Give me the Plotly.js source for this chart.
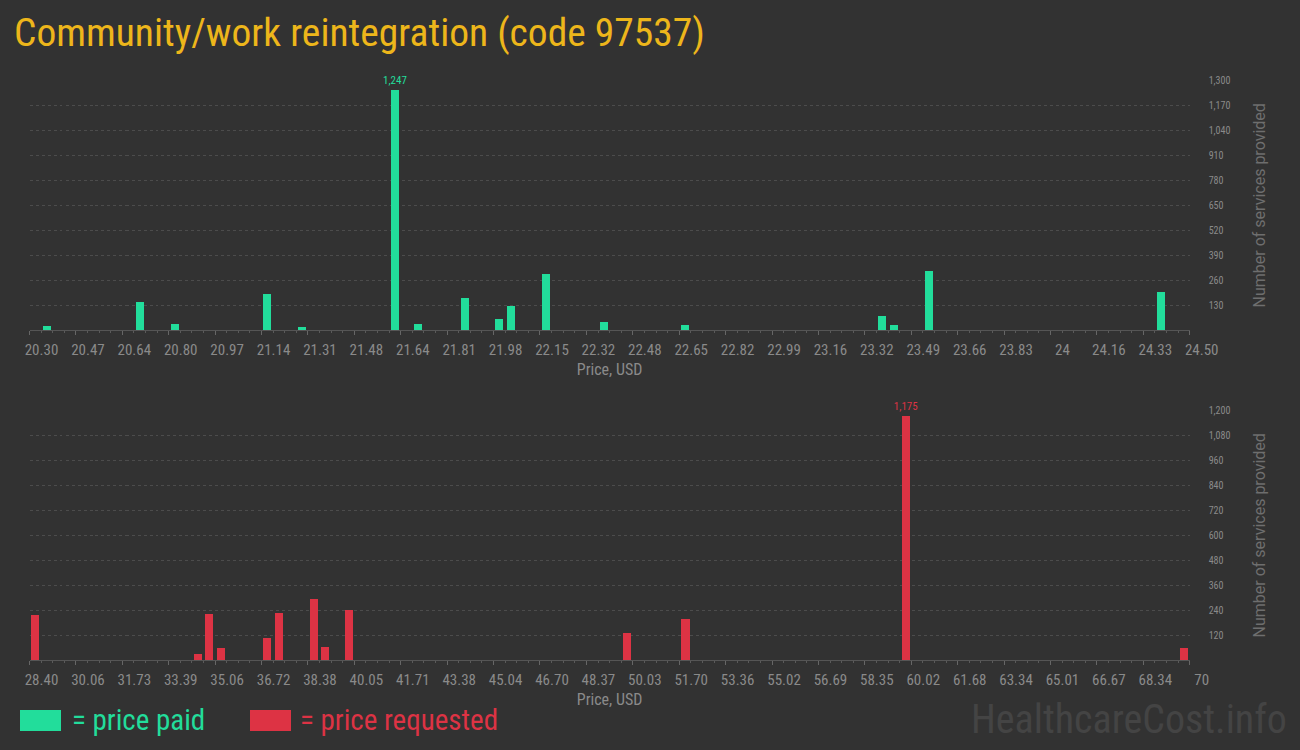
<!DOCTYPE html>
<html>
<head>
<meta charset="utf-8">
<script src="https://cdn.plot.ly/plotly-3.0.1.min.js"></script>
<style>
  html, body { margin: 0; padding: 0; background: #323232; }
  #chart { width: 1300px; height: 750px; }
</style>
</head>
<body>
<div id="chart"></div>
<script>
// ---- data ----
const paidPrice = [20.363, 20.699, 20.825, 21.161, 21.287, 21.623, 21.707, 21.875, 22.001, 22.043, 22.169, 22.379, 22.673, 23.387, 23.429, 23.555, 24.395];
const paidCount = [22, 147, 33, 189, 17, 1247, 33, 168, 59, 126, 293, 43, 28, 75, 28, 309, 199];

const requestedPrice = [28.61, 34.43, 34.85, 35.26, 36.93, 37.34, 38.59, 39.01, 39.84, 49.84, 51.92, 59.82, 69.79];
const requestedCount = [218, 30, 222, 59, 107, 227, 294, 64, 242, 131, 198, 1175, 59];

const paidTickVals = [20.30, 20.468, 20.636, 20.804, 20.972, 21.14, 21.308, 21.476, 21.644, 21.812, 21.98, 22.148, 22.316, 22.484, 22.652, 22.82, 22.988, 23.156, 23.324, 23.492, 23.66, 23.828, 23.996, 24.164, 24.332, 24.50];
const paidTickText = ["20.30", "20.47", "20.64", "20.80", "20.97", "21.14", "21.31", "21.48", "21.64", "21.81", "21.98", "22.15", "22.32", "22.48", "22.65", "22.82", "22.99", "23.16", "23.32", "23.49", "23.66", "23.83", "24", "24.16", "24.33", "24.50"];

const reqTickVals = [28.40, 30.064, 31.728, 33.392, 35.056, 36.72, 38.384, 40.048, 41.712, 43.376, 45.04, 46.704, 48.368, 50.032, 51.696, 53.36, 55.024, 56.688, 58.352, 60.016, 61.68, 63.344, 65.008, 66.672, 68.336, 70];
const reqTickText = ["28.40", "30.06", "31.73", "33.39", "35.06", "36.72", "38.38", "40.05", "41.71", "43.38", "45.04", "46.70", "48.37", "50.03", "51.70", "53.36", "55.02", "56.69", "58.35", "60.02", "61.68", "63.34", "65.01", "66.67", "68.34", "70"];

const paidYTicks = [130, 260, 390, 520, 650, 780, 910, 1040, 1170, 1300];
const reqYTicks = [120, 240, 360, 480, 600, 720, 840, 960, 1080, 1200];

const titleText = "Community/work reintegration (code 97537)";
const xTitle = "Price, USD";
const yTitle = "Number of services provided";
const legendPaid = "= price paid";
const legendRequested = "= price requested";
const watermark = "HealthcareCost.info";

// ---- style ----
const W = 1300, H = 750;
const BG = "#323232";
const GREEN = "#22dd9b";
const RED = "#dd3344";
const GOLD = "#edb61b";
const GREY = "#8a8a8a";
const COND = "'Roboto Condensed', 'Liberation Sans Narrow', 'DejaVu Sans Condensed', 'Arial Narrow', sans-serif";
const REG = "Roboto, 'Open Sans', sans-serif";

const px = v => v / W;
const py = v => 1 - v / H;

function maxLabels(vals) {
  const m = Math.max(...vals);
  return vals.map(v => v === m ? v.toLocaleString('en-US') : '');
}

const traces = [
  {
    type: 'bar', x: paidPrice, y: paidCount, xaxis: 'x', yaxis: 'y',
    width: 0.029, marker: { color: GREEN },
    text: maxLabels(paidCount), textposition: 'outside', cliponaxis: false, constraintext: 'none',
    textfont: { family: COND, size: 11, color: GREEN },
    hoverinfo: 'x+y'
  },
  {
    type: 'bar', x: requestedPrice, y: requestedCount, xaxis: 'x2', yaxis: 'y2',
    width: 0.29, marker: { color: RED },
    text: maxLabels(requestedCount), textposition: 'outside', cliponaxis: false, constraintext: 'none',
    textfont: { family: COND, size: 11, color: RED },
    hoverinfo: 'x+y'
  }
];

const xDomain = [px(29.5), px(1189.7)];

function xAxis(range, vals, text, minorStep, anchor) {
  return {
    domain: xDomain, range: range, anchor: anchor,
    tickmode: 'array', tickvals: vals, ticktext: text,
    ticks: 'outside', ticklen: 4, tickcolor: '#666', tickwidth: 1,
    ticklabelshift: 12, ticklabelstandoff: 2,
    minor: { tickmode: 'linear', tick0: range[0], dtick: minorStep, ticks: 'outside', ticklen: 2, tickcolor: '#5a5a5a', showgrid: false },
    showline: true, linecolor: '#555', linewidth: 1,
    showgrid: false, zeroline: false,
    tickfont: { family: COND, size: 15, color: GREY },
    title: { text: xTitle, font: { family: COND, size: 16, color: GREY }, standoff: 5 },
    fixedrange: true
  };
}

function yAxis(range, vals, domain, anchor) {
  return {
    domain: domain, range: range, anchor: anchor, side: 'right',
    tickmode: 'array', tickvals: vals, tickformat: ',d',
    ticks: '', ticklabelstandoff: 18,
    showgrid: true, gridcolor: '#4c4c4c', griddash: 'dot', gridwidth: 1,
    zeroline: false, showline: false,
    tickfont: { family: COND, size: 10, color: GREY },
    title: { text: yTitle, font: { family: REG, size: 16, color: '#6e6e6e' }, standoff: 24 },
    fixedrange: true
  };
}

const layout = {
  width: W, height: H,
  paper_bgcolor: BG, plot_bgcolor: BG,
  margin: { l: 0, r: 0, t: 0, b: 0 },
  showlegend: false,
  bargap: 0,
  title: {
    text: titleText, x: px(14), xanchor: 'left', xref: 'paper',
    y: py(32), yanchor: 'middle', yref: 'paper',
    font: { family: COND, size: 39.5, color: GOLD }
  },
  xaxis: xAxis([20.30, 24.50], paidTickVals, paidTickText, 0.042, 'y'),
  yaxis: yAxis([0, 1300], paidYTicks, [py(330.3), py(80.3)], 'x'),
  xaxis2: xAxis([28.40, 70], reqTickVals, reqTickText, 0.416, 'y2'),
  yaxis2: yAxis([0, 1200], reqYTicks, [py(660.3), py(410.3)], 'x2'),
  shapes: [
    { type: 'rect', xref: 'paper', yref: 'paper', x0: px(20), x1: px(61), y0: py(731), y1: py(710), fillcolor: GREEN, line: { width: 0 } },
    { type: 'rect', xref: 'paper', yref: 'paper', x0: px(250), x1: px(291), y0: py(731), y1: py(710), fillcolor: RED, line: { width: 0 } }
  ],
  annotations: [
    { text: legendPaid, xref: 'paper', yref: 'paper', x: px(70), y: py(720), xanchor: 'left', yanchor: 'middle', showarrow: false, font: { family: COND, size: 29, color: GREEN } },
    { text: legendRequested, xref: 'paper', yref: 'paper', x: px(298), y: py(720), xanchor: 'left', yanchor: 'middle', showarrow: false, font: { family: COND, size: 29, color: RED } },
    { text: watermark, xref: 'paper', yref: 'paper', x: px(1289), y: py(719), xanchor: 'right', yanchor: 'middle', showarrow: false, font: { family: COND, size: 40, color: '#444444' } }
  ]
};

Plotly.newPlot('chart', traces, layout, { staticPlot: true, displayModeBar: false });
</script>
</body>
</html>
